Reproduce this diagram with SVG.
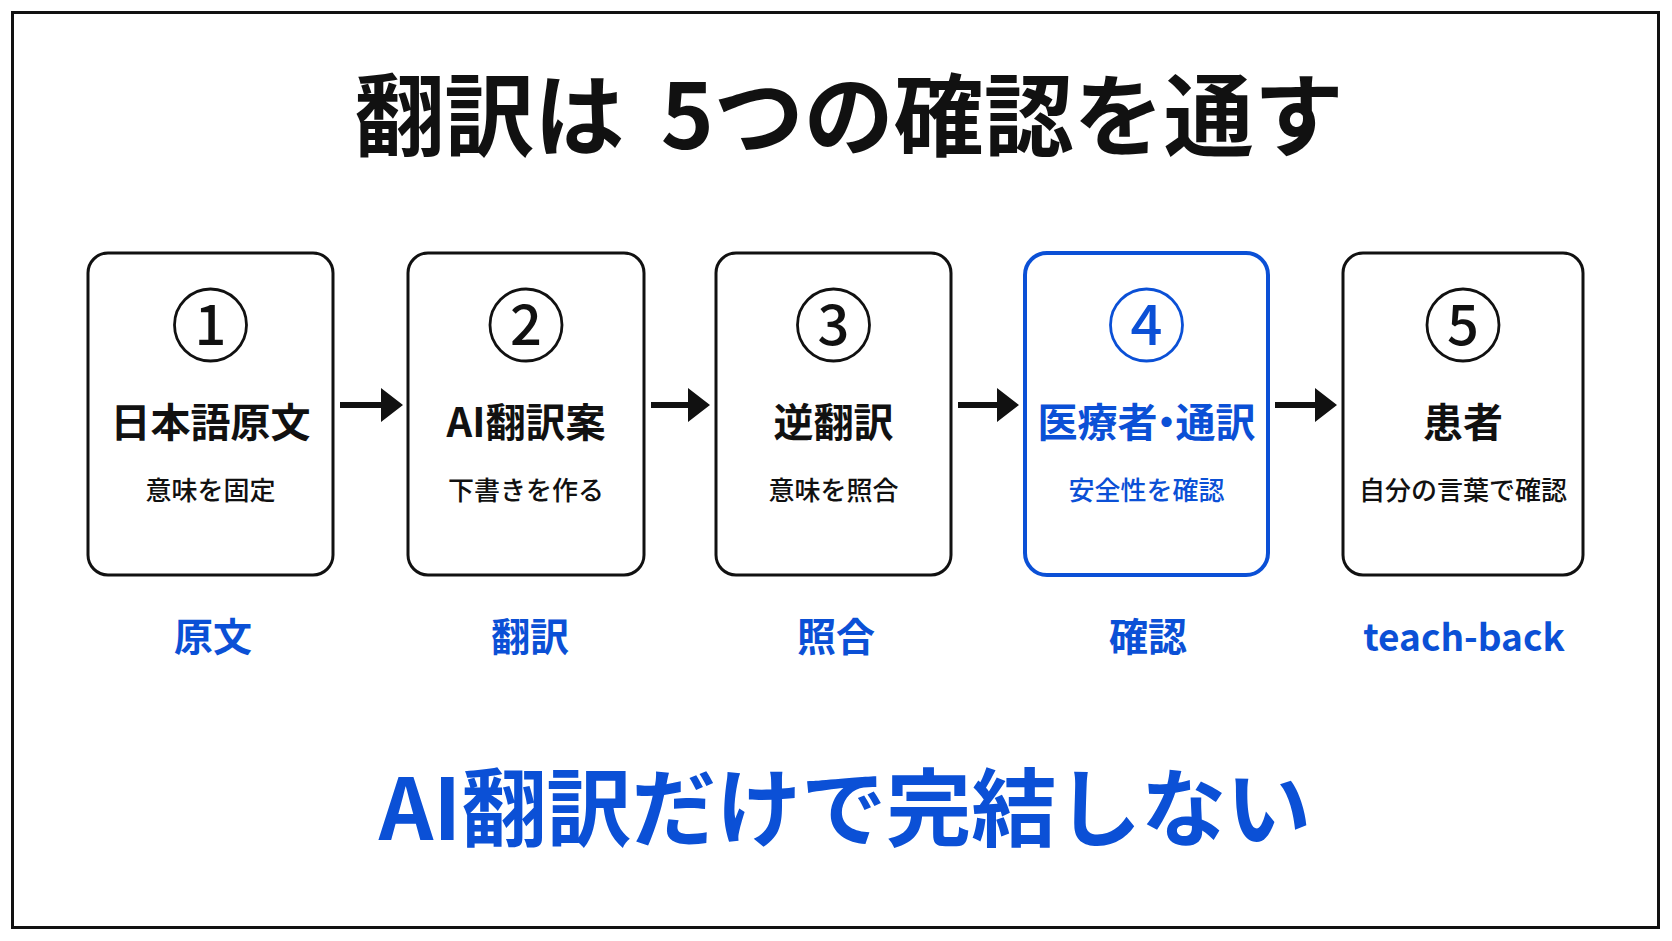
<svg xmlns="http://www.w3.org/2000/svg" width="1672" height="941" viewBox="0 0 1672 941">
<style>
text{font-family:"Noto Sans CJK JP","Noto Sans",sans-serif;text-anchor:middle}
.title{font-size:90px;font-weight:700;fill:#111}
.box{fill:#fff;stroke:#111;stroke-width:3}
.box.hl{stroke:#0b50d6;stroke-width:4}
.circ{fill:none;stroke:#111;stroke-width:2.8}
.circ.hl{stroke:#0b50d6}
.num{font-size:56px;font-weight:500;fill:#111}
.head{font-size:40px;font-weight:700;fill:#111}
.sub{font-size:26px;font-weight:500;fill:#111}
.blue{fill:#0b50d6}
.lab{font-size:39px;font-weight:700;fill:#0b50d6}
.lab.en{font-size:37px}
.foot{font-size:85px;font-weight:700;fill:#0b50d6}
.arr{fill:#111}
</style>
<rect width="1672" height="941" fill="#fff"/>
<rect x="12.5" y="12.5" width="1646" height="915" fill="none" stroke="#111" stroke-width="3"/>
<text class="title" x="849" y="149">翻訳は <tspan dx="16">5つの確認を通す</tspan></text>

<g id="node1">
<rect class="box" x="88" y="253" width="245" height="322" rx="20"/>
<circle class="circ" cx="210.5" cy="325" r="36"/>
<text class="num" x="210.5" y="345">1</text>
<text class="head" x="210.5" y="437">日本語原文</text>
<text class="sub" x="210.5" y="500">意味を固定</text>
</g>
<g id="node2">
<rect class="box" x="408" y="253" width="236" height="322" rx="20"/>
<circle class="circ" cx="526" cy="325" r="36"/>
<text class="num" x="526" y="345">2</text>
<text class="head" x="526" y="437">AI翻訳案</text>
<text class="sub" x="526" y="500">下書きを作る</text>
</g>
<g id="node3">
<rect class="box" x="716" y="253" width="235" height="322" rx="20"/>
<circle class="circ" cx="833.5" cy="325" r="36"/>
<text class="num" x="833.5" y="345">3</text>
<text class="head" x="833.5" y="437">逆翻訳</text>
<text class="sub" x="833.5" y="500">意味を照合</text>
</g>
<g id="node4">
<rect class="box hl" x="1025" y="253" width="243" height="322" rx="22"/>
<circle class="circ hl" cx="1146.5" cy="325" r="36"/>
<text class="num blue" x="1146.5" y="345">4</text>
<text class="head blue" x="1146.5" y="437">医療者<tspan dx="-11">・</tspan><tspan dx="-11">通訳</tspan></text>
<text class="sub blue" x="1146.5" y="500">安全性を確認</text>
</g>
<g id="node5">
<rect class="box" x="1343" y="253" width="240" height="322" rx="20"/>
<circle class="circ" cx="1463" cy="325" r="36"/>
<text class="num" x="1463" y="345">5</text>
<text class="head" x="1463" y="437">患者</text>
<text class="sub" x="1463" y="500">自分の言葉で確認</text>
</g>

<g id="connectors">
<path class="arr" d="M340 402H381V388L403 405L381 422V408H340Z"/>
<path class="arr" d="M651 402H688V388L710 405L688 422V408H651Z"/>
<path class="arr" d="M958 402H997V388L1019 405L997 422V408H958Z"/>
<path class="arr" d="M1275 402H1315V388L1337 405L1315 422V408H1275Z"/>
</g>

<g id="labels">
<text class="lab" x="213" y="651">原文</text>
<text class="lab" x="530" y="651">翻訳</text>
<text class="lab" x="836" y="651">照合</text>
<text class="lab" x="1148" y="651">確認</text>
<text class="lab en" x="1464" y="651">teach-back</text>
</g>
<text class="foot" x="845" y="840">AI翻訳だけで完結しない</text>
</svg>
